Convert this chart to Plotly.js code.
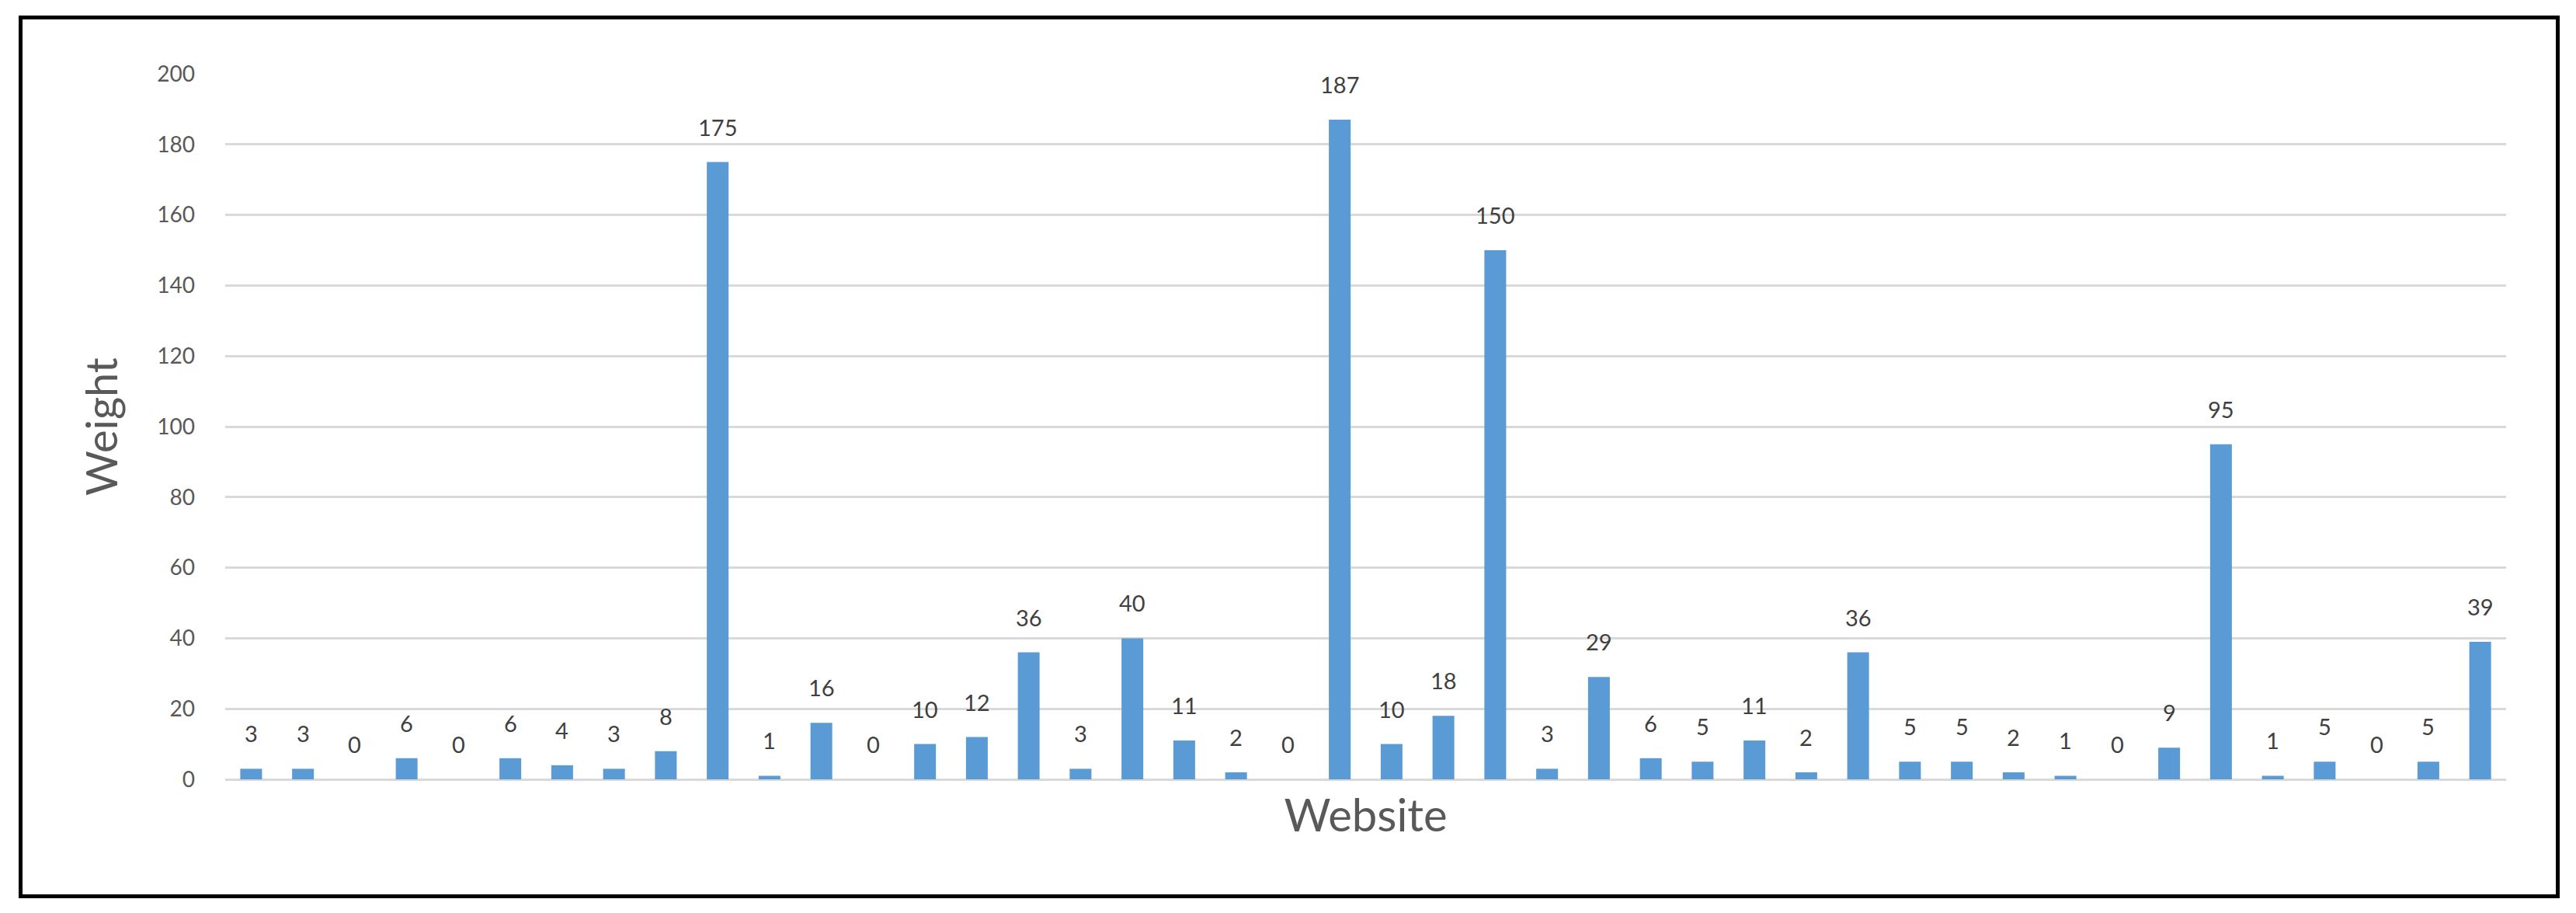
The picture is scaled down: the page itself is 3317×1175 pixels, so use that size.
<!DOCTYPE html>
<html>
<head>
<meta charset="utf-8">
<script src="https://cdn.plot.ly/plotly-3.0.1.min.js"></script>
<style>
  html, body { margin: 0; padding: 0; background: #fff; }
  #wrap { position: relative; width: 3317px; height: 1175px; }
  #chart { width: 3317px; height: 1175px; }
  #frame {
    position: absolute; left: 24px; top: 20px; width: 3262px; height: 1126px;
    border: 5px solid #000; pointer-events: none;
  }
</style>
</head>
<body>
<div id="wrap">
  <div id="chart"></div>
  <div id="frame"></div>
</div>
<script>
// one bar per website, left to right
var websites = ['Site 1', 'Site 2', 'Site 3', 'Site 4', 'Site 5', 'Site 6', 'Site 7', 'Site 8',
                'Site 9', 'Site 10', 'Site 11', 'Site 12', 'Site 13', 'Site 14', 'Site 15',
                'Site 16', 'Site 17', 'Site 18', 'Site 19', 'Site 20', 'Site 21', 'Site 22',
                'Site 23', 'Site 24', 'Site 25', 'Site 26', 'Site 27', 'Site 28', 'Site 29',
                'Site 30', 'Site 31', 'Site 32', 'Site 33', 'Site 34', 'Site 35', 'Site 36',
                'Site 37', 'Site 38', 'Site 39', 'Site 40', 'Site 41', 'Site 42', 'Site 43', 'Site 44'];
var weights = [3, 3, 0, 6, 0, 6, 4, 3, 8, 175, 1, 16, 0, 10, 12, 36, 3, 40, 11, 2, 0, 187,
               10, 18, 150, 3, 29, 6, 5, 11, 2, 36, 5, 5, 2, 1, 0, 9, 95, 1, 5, 0, 5, 39];
var yTicks = [0, 20, 40, 60, 80, 100, 120, 140, 160, 180, 200];

var FONT = 'Lato, "Open Sans", sans-serif';

// value labels sit a little above each bar
function makeLabels() {
    return weights.map(function (v, i) {
        return {
            x: websites[i],
            y: v,
            text: String(v),
            xref: 'x',
            yref: 'y',
            yanchor: 'bottom',
            yshift: 26,
            showarrow: false,
            font: { family: FONT, size: 29, color: '#404040' }
        };
    });
}

var barTrace = {
    type: 'bar',
    x: websites,
    y: weights,
    marker: { color: '#5b9bd5' },
    hoverinfo: 'x+y'
};

var layout = {
    width: 3317,
    height: 1175,
    margin: { l: 290, r: 90, t: 95, b: 172 },
    paper_bgcolor: '#fff',
    plot_bgcolor: '#fff',
    bargap: 0.58,
    showlegend: false,
    font: { family: FONT, color: '#595959' },
    xaxis: {
        type: 'category',
        showticklabels: false,
        showgrid: false,
        zeroline: false,
        showline: false,
        ticks: '',
        title: {
            text: 'Website',
            standoff: 26,
            font: { family: FONT, size: 58, color: '#595959' }
        }
    },
    yaxis: {
        range: [0, 200],
        tickvals: yTicks,
        showgrid: true,
        gridcolor: '#d9d9d9',
        gridwidth: 3,
        zeroline: true,
        zerolinecolor: '#d9d9d9',
        zerolinewidth: 3,
        showline: false,
        ticks: '',
        ticklabelstandoff: 38,
        tickfont: { family: FONT, size: 28, color: '#595959' },
        title: {
            text: 'Weight',
            standoff: 32,
            font: { family: FONT, size: 56, color: '#595959' }
        }
    },
    annotations: makeLabels()
};

var config = { displayModeBar: false, responsive: false };

Plotly.newPlot('chart', [barTrace], layout, config);
</script>
</body>
</html>
